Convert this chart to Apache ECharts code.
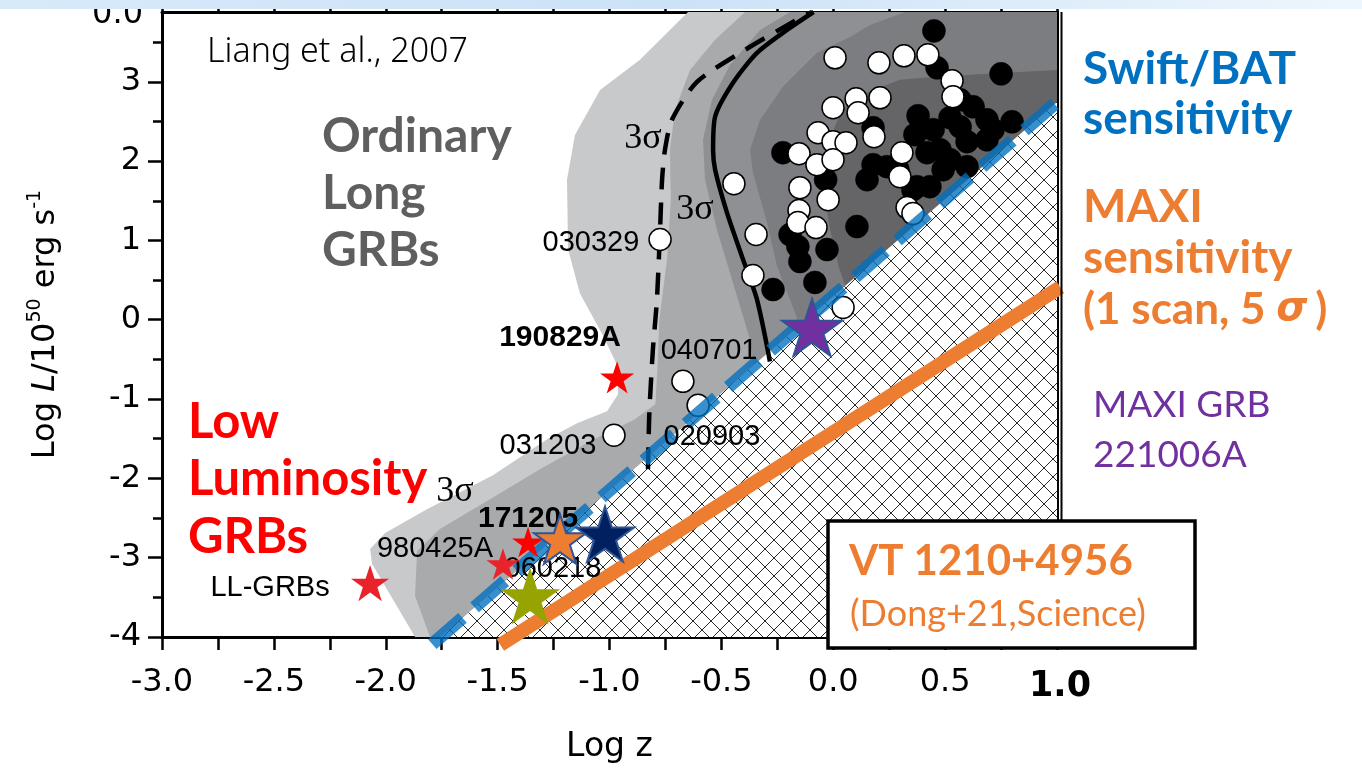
<!DOCTYPE html>
<html><head><meta charset="utf-8">
<script src="https://cdn.jsdelivr.net/npm/echarts@6/dist/echarts.min.js"></script>
<style>html,body{margin:0;padding:0;background:#fff}#c{width:1362px;height:769px}</style>
</head><body><div id="c"></div>
<script>
// ---------- axis ranges & ticks ----------
const X_MIN = -3, X_MAX = 1, Y_MIN = -4, Y_MAX = 3.88;
const yMajorTicks = [-4, -3, -2, -1, 0, 1, 2, 3];
const yMinorTicks = [-3.5, -2.5, -1.5, -0.5, 0.5, 1.5, 2.5, 3.5];

// ---------- density contour bands (Liang et al. 2007), outer -> inner ----------
const bandL1 = [[-0.649,3.88],[-0.864,3.277],[-1.042,2.898],[-1.154,2.333],[-1.190,1.766],[-1.185,0.885],[-1.132,0.331],[-1.029,-0.198],[-0.966,-0.575],[-0.962,-0.940],[-1.011,-1.154],[-1.145,-1.305],[-1.279,-1.507],[-1.521,-1.960],[-1.816,-2.388],[-2.003,-2.690],[-2.070,-2.891],[-2.061,-3.080],[-1.869,-4.0],[1,-4],[1,3.88]];
const bandL2 = [[-0.394,3.88],[-0.529,3.528],[-0.640,3.150],[-0.707,2.647],[-0.730,2.144],[-0.726,1.514],[-0.743,0.759],[-0.777,0.004],[-0.786,-0.626],[-0.795,-1.066],[-0.886,-1.255],[-1.087,-1.532],[-1.311,-1.884],[-1.534,-2.262],[-1.758,-2.639],[-1.860,-2.917],[-1.869,-3.483],[-1.802,-4.0],[1,-4],[1,3.88]];
const bandL3 = [[-0.193,3.88],[-0.327,3.654],[-0.461,3.214],[-0.542,2.773],[-0.582,2.269],[-0.573,1.766],[-0.520,1.137],[-0.439,0.381],[-0.372,-0.248],[-0.350,-0.752],[-0.417,-1.129],[-0.596,-1.507],[-0.819,-1.884],[-0.953,-2.514],[1,-4],[1,3.88]];
const bandL4 = [[0.321,3.88],[0.164,3.717],[0.075,3.566],[-0.073,3.365],[-0.225,2.936],[-0.327,2.521],[-0.372,2.144],[-0.359,1.854],[-0.296,1.225],[-0.251,0.671],[-0.193,0.256],[-0.126,-0.248],[0.024,-1.255],[1,-4],[1,3.88]];
const bandL5 = [[1,3.150],[0.745,3.112],[0.446,3.062],[0.298,3.025],[0.151,2.861],[0.037,2.647],[-0.021,2.232],[-0.046,1.854],[-0.021,1.225],[0.024,0.671],[0.075,0.256],[1,-4]];
const bandColors = ['#c8c9cb', '#a9aaac', '#8f9093', '#7c7d80', '#656567'];

// ---------- 3 sigma contour lines ----------
const dashedContour = [[-0.828,-1.884],[-0.823,-1.255],[-0.819,-1.003],[-0.806,-0.374],[-0.788,0.256],[-0.774,1.137],[-0.765,1.766],[-0.752,2.144],[-0.721,2.521],[-0.609,2.999],[-0.394,3.402],[-0.149,3.805],[-0.095,3.88]];
const solidContour = [[-0.283,-0.526],[-0.341,0.256],[-0.403,0.759],[-0.475,1.351],[-0.528,1.892],[-0.537,2.144],[-0.528,2.559],[-0.448,2.987],[-0.341,3.365],[-0.207,3.654],[-0.088,3.88]];

// ---------- sensitivity lines ----------
const swiftBATLine = [[-1.792,-4.09],[1.03,2.82]];
const maxiLine = [[-1.488,-4.10],[1.015,0.41]];

// ---------- GRB samples (log z, log L/1e50) ----------
const whiteGRBs = [[0.008,3.302],[0.204,3.239],[0.316,3.327],[0.423,3.340],[0.531,3.012],[0.535,2.811],[0.102,2.786],[0.209,2.798],[0.111,2.610],[-0.001,2.672],[-0.068,2.358],[-0.001,2.245],[0.057,2.232],[0.182,2.307],[0.307,2.106],[-0.153,2.094],[-0.073,1.955],[-0.001,2.018],[-0.444,1.716],[-0.345,1.074],[-0.359,0.558],[-0.149,1.665],[-0.023,1.514],[-0.153,1.376],[-0.158,1.225],[-0.077,1.162],[0.044,0.155],[0.298,1.804],[0.330,1.414],[0.356,1.338],[-0.774,1.011],[-0.672,-0.777],[-0.604,-1.079],[-0.980,-1.456]];
const blackGRBs = [[0.450,3.642],[0.464,3.176],[0.750,3.100],[0.379,2.572],[0.625,2.685],[0.567,2.773],[0.799,2.496],[0.522,2.547],[0.687,2.521],[0.178,2.421],[0.365,2.333],[0.446,2.396],[0.567,2.433],[0.714,2.396],[0.598,2.245],[0.477,2.144],[-0.225,2.106],[-0.034,1.766],[0.151,1.766],[0.178,1.955],[0.240,1.930],[0.374,1.678],[0.432,1.678],[0.106,1.175],[-0.193,1.074],[-0.158,0.923],[-0.149,0.734],[-0.028,0.885],[-0.082,0.470],[-0.269,0.381],[0.419,2.106],[0.491,1.892],[0.522,2.018],[0.598,1.930],[0.687,2.269],[0.356,1.640],[0.289,1.892]];

// ---------- highlighted GRBs (stars) ----------
const starLLGRB = [-2.070, -3.320];
const star190829A = [-0.966, -0.726];
const star980425A = [-1.476, -3.080];
const star171205A = [-1.364, -2.803];
const starOrange = [-1.221, -2.766];
const starNavy = [-1.020, -2.703];
const starOlive = [-1.355, -3.483];
const starMAXI221006A = [-0.095, -0.097];

// ---------- in-plot annotations ----------
const grbLabelTexts = ['030329', '040701', '020903', '031203', '980425A', '060218', '190829A', '171205', 'LL-GRBs'];
const grbLabelPos = [[-1.083,0.973],[-0.555,-0.400],[-0.542,-1.477],[-1.275,-1.595],[-1.780,-2.891],[-1.253,-3.143],[-1.221,-0.223],[-1.364,-2.505],[-2.517,-3.383]];
const sigmaLabelPos = [[-0.850,2.281],[-0.618,1.389],[-1.691,-2.163]];
const ordinaryLines = ['Ordinary', 'Long', 'GRBs'];
const ordinaryPos = [[-2.285,2.306],[-2.285,1.590],[-2.285,0.872]];
const lowLumLines = ['Low', 'Luminosity', 'GRBs'];
const lowLumPos = [[-2.884,-1.293],[-2.884,-2.011],[-2.884,-2.741]];
const refText = 'Liang et al., 2007';
const refPos = [-2.799, 3.377];

// ---------- helpers ----------
const STAR = (() => {
  let s = 'path://';
  for (let i = 0; i < 10; i++) {
    const r = i % 2 ? 19.1 : 50, a = (-90 + i * 36) * Math.PI / 180;
    s += (i ? 'L' : 'M') + (50 + r * Math.cos(a)).toFixed(2) + ' ' + (50 + r * Math.sin(a)).toFixed(2);
  }
  return s + 'Z';
})();

const tile = document.createElement('canvas');
tile.width = 18; tile.height = 18;
(() => {
  const g = tile.getContext('2d');
  g.fillStyle = '#fff'; g.fillRect(0, 0, 18, 18);
  g.strokeStyle = '#2a2a2a'; g.lineWidth = 1;
  g.beginPath();
  for (const k of [-18, 0, 18]) {
    g.moveTo(k - 2, -2); g.lineTo(k + 20, 20);
    g.moveTo(18 + k + 2, -2); g.lineTo(k - 2, 20);
  }
  g.stroke();
})();

function polySeries(points, fill, z) {
  return {
    type: 'custom', coordinateSystem: 'cartesian2d', z: z, silent: true, clip: true,
    data: [points[0]],
    renderItem: (params, api) => ({
      type: 'polygon',
      shape: { points: points.map(p => api.coord(p)) },
      style: { fill: fill, stroke: null }
    })
  };
}

// hatched region below the Swift/BAT sensitivity line
const sw0 = swiftBATLine[0], sw1 = swiftBATLine[1];
const swSlope = (sw1[1] - sw0[1]) / (sw1[0] - sw0[0]);
const hatchRegion = [[sw0[0] + (Y_MIN - sw0[1]) / swSlope, Y_MIN], [X_MAX, sw0[1] + swSlope * (X_MAX - sw0[0])], [X_MAX, Y_MIN]];

function starSeries(pt, size, fill, border, z) {
  return {
    type: 'scatter', data: [pt], symbol: STAR, symbolKeepAspect: true, symbolSize: [size, size],
    z: z, silent: true,
    itemStyle: { color: fill, borderColor: border || fill, borderWidth: border ? 2 : 0, opacity: 1 }
  };
}
function textSeries(texts, pos, label, z) {
  return {
    type: 'scatter', z: z, silent: true, symbol: 'circle', symbolSize: 1,
    itemStyle: { color: 'rgba(0,0,0,0)', opacity: 1 },
    data: texts.map((t, i) => ({ name: t, value: pos[i] })),
    label: Object.assign({ show: true, position: 'inside', formatter: '{b}', opacity: 1 }, label)
  };
}

const axisBlack = { color: '#000', width: 3 };
const series = [];
[bandL1, bandL2, bandL3, bandL4, bandL5].forEach((b, i) => series.push(polySeries(b, bandColors[i], 1)));
series.push(polySeries(hatchRegion, { image: tile, repeat: 'repeat' }, 2));
series.push({ type: 'line', data: dashedContour, smooth: 0.25, showSymbol: false, symbol: 'none', z: 3, silent: true,
  lineStyle: { color: '#000', width: 4.5, type: [22, 13] } });
series.push({ type: 'line', data: solidContour, smooth: 0.25, showSymbol: false, symbol: 'none', z: 3, silent: true,
  lineStyle: { color: '#000', width: 4.5 } });
series.push({ type: 'scatter', data: blackGRBs, symbol: 'circle', symbolSize: 23, z: 4, silent: true,
  itemStyle: { color: '#000', borderColor: '#000', borderWidth: 0.5, opacity: 1 } });
series.push({ type: 'scatter', data: whiteGRBs, symbol: 'circle', symbolSize: 22, z: 4, silent: true,
  itemStyle: { color: '#fff', borderColor: '#000', borderWidth: 1.5, opacity: 1 } });
series.push({ type: 'line', data: swiftBATLine, showSymbol: false, symbol: 'none', z: 6, clip: false, silent: true,
  lineStyle: { color: 'rgba(0,112,192,0.78)', width: 13, type: [40, 16], cap: 'butt' } });
series.push({ type: 'line', data: maxiLine, showSymbol: false, symbol: 'none', z: 6, clip: false, silent: true,
  lineStyle: { color: '#ed7d31', width: 14, cap: 'butt' } });

const numFont = { fontFamily: 'Liberation Sans', fontSize: 29, color: '#000' };
series.push(textSeries(grbLabelTexts.slice(0, 6), grbLabelPos.slice(0, 6), Object.assign({}, numFont), 7));
series.push(textSeries(grbLabelTexts.slice(6, 8), grbLabelPos.slice(6, 8), Object.assign({}, numFont, { fontWeight: 'bold', fontSize: 30 }), 7));
series.push(textSeries(grbLabelTexts.slice(8), grbLabelPos.slice(8), Object.assign({}, numFont, { fontSize: 29 }), 7));
series.push(textSeries(['3σ', '3σ', '3σ'], sigmaLabelPos, { fontFamily: 'Liberation Serif', fontSize: 36, color: '#000' }, 7));

series.push(starSeries(starLLGRB, 38, '#e8232b', null, 8));
series.push(starSeries(star190829A, 34, '#ff0000', null, 8));
series.push(starSeries(star980425A, 33, '#e8232b', null, 8));
series.push(starSeries(star171205A, 32, '#ff0000', null, 8));
series.push(starSeries(starOrange, 52, '#ed7d31', '#2f5597', 9));
series.push(starSeries(starNavy, 58, '#002060', '#2f5597', 9));
series.push(starSeries(starOlive, 60, '#97a300', null, 9));
series.push(starSeries(starMAXI221006A, 60, '#7030a0', '#2f5597', 9));

series.push(textSeries(ordinaryLines, ordinaryPos, { align: 'left', fontFamily: 'Lato', fontWeight: 'bold', fontSize: 48, color: '#5f5f5f' }, 10));
series.push(textSeries(lowLumLines, lowLumPos, { align: 'left', fontFamily: 'Lato', fontWeight: 'bold', fontSize: 49, color: '#ff0000' }, 10));
series.push(textSeries([refText], [refPos], { align: 'left', fontFamily: 'Noto Sans', fontWeight: 300, fontSize: 34, color: '#000' }, 10));

const tickLine = { show: true, lineStyle: { color: '#000', width: 2.5 } };
const option = {
  animation: false,
  backgroundColor: '#fff',
  grid: { left: 162, right: 305, top: 12, bottom: 131, containLabel: false },
  xAxis: [
    { type: 'value', min: X_MIN, max: X_MAX, interval: 0.5, position: 'bottom',
      axisLine: { show: true, onZero: false, lineStyle: axisBlack },
      axisTick: Object.assign({ inside: false, length: 13 }, tickLine),
      minorTick: { show: true, splitNumber: 2, length: 13, lineStyle: { color: '#000', width: 2.5 } },
      splitLine: { show: false }, minorSplitLine: { show: false },
      axisLabel: { margin: 30, color: '#000', fontFamily: 'DejaVu Sans', fontSize: 32, showMaxLabel: true, showMinLabel: true,
        formatter: v => Math.abs(v - 1) < 1e-9 ? '{b|1.0}' : v.toFixed(1),
        rich: { b: { fontFamily: 'DejaVu Sans', fontWeight: 'bold', fontSize: 35, color: '#000', padding: [2, 0, 0, 6] } } },
      name: 'Log z', nameLocation: 'middle', nameGap: 94,
      nameTextStyle: { fontFamily: 'DejaVu Sans', fontSize: 33, color: '#000' } },
    { type: 'value', min: X_MIN, max: X_MAX, interval: 0.25, position: 'top',
      axisLine: { show: true, onZero: false, lineStyle: axisBlack },
      axisTick: Object.assign({ inside: false, length: 7 }, tickLine),
      axisLabel: { show: false }, splitLine: { show: false } }
  ],
  yAxis: [
    { type: 'value', min: Y_MIN, max: Y_MAX, interval: 1, position: 'left',
      axisLine: { show: true, onZero: false, lineStyle: axisBlack },
      axisTick: Object.assign({ inside: false, length: 14, customValues: yMajorTicks }, tickLine),
      splitLine: { show: false },
      axisLabel: { margin: 21, color: '#000', fontFamily: 'DejaVu Sans', fontSize: 32, customValues: yMajorTicks,
        formatter: v => String(v) },
      name: '{a|Log }{i|L}{a|/10}{s|50}{a| erg s}{s|-1}', nameLocation: 'middle', nameRotate: 90, nameGap: 96,
      nameTextStyle: { color: '#000', fontFamily: 'DejaVu Sans', fontSize: 32,
        rich: { a: { fontFamily: 'DejaVu Sans', fontSize: 32, lineHeight: 40, color: '#000' },
                i: { fontFamily: 'DejaVu Sans', fontStyle: 'italic', fontSize: 32, lineHeight: 40, color: '#000' },
                s: { fontFamily: 'DejaVu Sans', fontSize: 19, lineHeight: 20, verticalAlign: 'top', color: '#000' } } } },
    { type: 'value', min: Y_MIN, max: Y_MAX, position: 'left', offset: 0,
      axisLine: { show: false, onZero: false },
      axisTick: Object.assign({ inside: false, length: 9, customValues: yMinorTicks }, tickLine),
      axisLabel: { show: false }, splitLine: { show: false } },
    { type: 'value', min: Y_MIN, max: Y_MAX, position: 'right',
      axisLine: { show: true, onZero: false, lineStyle: axisBlack },
      axisTick: { show: false }, axisLabel: { show: false }, splitLine: { show: false } }
  ],
  series: series,
  graphic: [
    { type: 'text', z: 90, x: 143, y: 15, style: { text: '0.0', fontFamily: 'DejaVu Sans', fontSize: 32, fill: '#000', align: 'right', verticalAlign: 'middle' } },
    { type: 'rect', z: 95, shape: { x: 0, y: 0, width: 1362, height: 9 },
      style: { fill: new echarts.graphic.LinearGradient(0, 0, 1, 0, [{ offset: 0, color: '#d8e9fa' }, { offset: 0.5, color: '#cce2f7' }, { offset: 1, color: '#eef6fd' }]) } },
    { type: 'line', z: 95, shape: { x1: 1061.5, y1: 12, x2: 1061.5, y2: 522 }, style: { stroke: '#000', lineWidth: 2 } },
    { type: 'text', z: 95, x: 1083, y: 69, style: { text: 'Swift/BAT', fill: '#0070c0', fontFamily: 'Lato', fontWeight: 'bold', fontSize: 46, verticalAlign: 'middle' } },
    { type: 'text', z: 95, x: 1083, y: 119, style: { text: 'sensitivity', fill: '#0070c0', fontFamily: 'Lato', fontWeight: 'bold', fontSize: 46, verticalAlign: 'middle' } },
    { type: 'text', z: 95, x: 1083, y: 207, style: { text: 'MAXI', fill: '#ed7d31', fontFamily: 'Lato', fontWeight: 'bold', fontSize: 46, verticalAlign: 'middle' } },
    { type: 'text', z: 95, x: 1083, y: 258, style: { text: 'sensitivity', fill: '#ed7d31', fontFamily: 'Lato', fontWeight: 'bold', fontSize: 46, verticalAlign: 'middle' } },
    { type: 'text', z: 95, x: 1083, y: 310, style: { text: '(1 scan, 5 {i|σ})', fill: '#ed7d31', fontFamily: 'Lato', fontWeight: 'bold', fontSize: 44, verticalAlign: 'middle',
        rich: { i: { fill: '#ed7d31', fontFamily: 'DejaVu Sans', fontStyle: 'italic', fontWeight: 'bold', fontSize: 40, padding: [0, 8, 0, 0] } } } },
    { type: 'text', z: 95, x: 1093, y: 405, style: { text: 'MAXI GRB', fill: '#7030a0', fontFamily: 'Lato', fontSize: 37, verticalAlign: 'middle' } },
    { type: 'text', z: 95, x: 1093, y: 455, style: { text: '221006A', fill: '#7030a0', fontFamily: 'Lato', fontSize: 37, verticalAlign: 'middle' } },
    { type: 'rect', z: 96, shape: { x: 828, y: 521, width: 367, height: 127 }, style: { fill: '#fff', stroke: '#000', lineWidth: 3.5 } },
    { type: 'text', z: 97, x: 849, y: 561, style: { text: 'VT 1210+4956', fill: '#ed7d31', fontFamily: 'Lato', fontWeight: 'bold', fontSize: 42, verticalAlign: 'middle' } },
    { type: 'text', z: 97, x: 850, y: 614, style: { text: '(Dong+21,Science)', fill: '#ed7d31', fontFamily: 'Lato', fontSize: 36, verticalAlign: 'middle' } }
  ]
};
const chart = echarts.init(document.getElementById('c'), null, { renderer: 'canvas' });
chart.setOption(option);
</script>
</body></html>
